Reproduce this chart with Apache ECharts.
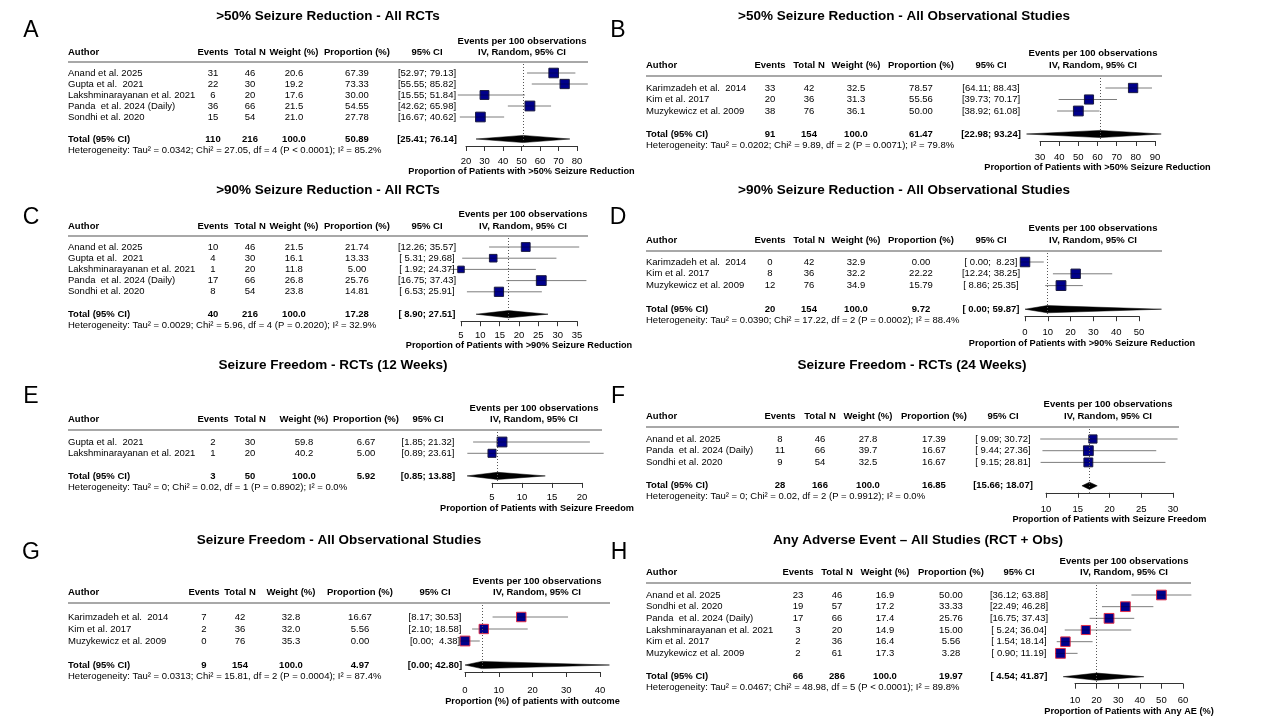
<!DOCTYPE html>
<html><head><meta charset="utf-8">
<script src="https://cdn.jsdelivr.net/npm/echarts@6/dist/echarts.min.js"></script>
<style>html,body{margin:0;padding:0;background:#fff}#main{width:1280px;height:720px}</style>
</head><body><div id="main"></div>
<script>
// ================= DATA =================
// Panel A
const A_title = '>50% Seizure Reduction - All RCTs';
const A_authors = ['Anand et al. 2025','Gupta et al.  2021','Lakshminarayanan et al. 2021','Panda  et al. 2024 (Daily)','Sondhi et al. 2020'];
const A_events = [31,22,6,36,15];
const A_totalN = [46,30,20,66,54];
const A_weight = [20.6,19.2,17.6,21.5,21.0];
const A_prop = [67.39,73.33,30.00,54.55,27.78];
const A_lo = [52.97,55.55,15.55,42.62,16.67];
const A_hi = [79.13,85.82,51.84,65.98,40.62];
const A_pooled = [110,216,50.89,25.41,76.14]; // events, N, estimate, lower, upper
const A_het = 'Heterogeneity: Tau² = 0.0342; Chi² = 27.05, df = 4 (P < 0.0001); I² = 85.2%';
const A_ticks = [20,80,10];
const A_xTitle = 'Proportion of Patients with >50% Seizure Reduction';
// Panel B
const B_title = '>50% Seizure Reduction - All Observational Studies';
const B_authors = ['Karimzadeh et al.  2014','Kim et al. 2017','Muzykewicz et al. 2009'];
const B_events = [33,20,38];
const B_totalN = [42,36,76];
const B_weight = [32.5,31.3,36.1];
const B_prop = [78.57,55.56,50.00];
const B_lo = [64.11,39.73,38.92];
const B_hi = [88.43,70.17,61.08];
const B_pooled = [91,154,61.47,22.98,93.24];
const B_het = 'Heterogeneity: Tau² = 0.0202; Chi² = 9.89, df = 2 (P = 0.0071); I² = 79.8%';
const B_ticks = [30,90,10];
const B_xTitle = 'Proportion of Patients with >50% Seizure Reduction';
// Panel C
const C_title = '>90% Seizure Reduction - All RCTs';
const C_authors = ['Anand et al. 2025','Gupta et al.  2021','Lakshminarayanan et al. 2021','Panda  et al. 2024 (Daily)','Sondhi et al. 2020'];
const C_events = [10,4,1,17,8];
const C_totalN = [46,30,20,66,54];
const C_weight = [21.5,16.1,11.8,26.8,23.8];
const C_prop = [21.74,13.33,5.00,25.76,14.81];
const C_lo = [12.26,5.31,1.92,16.75,6.53];
const C_hi = [35.57,29.68,24.37,37.43,25.91];
const C_pooled = [40,216,17.28,8.90,27.51];
const C_het = 'Heterogeneity: Tau² = 0.0029; Chi² = 5.96, df = 4 (P = 0.2020); I² = 32.9%';
const C_ticks = [5,35,5];
const C_xTitle = 'Proportion of Patients with >90% Seizure Reduction';
// Panel D
const D_title = '>90% Seizure Reduction - All Observational Studies';
const D_authors = ['Karimzadeh et al.  2014','Kim et al. 2017','Muzykewicz et al. 2009'];
const D_events = [0,8,12];
const D_totalN = [42,36,76];
const D_weight = [32.9,32.2,34.9];
const D_prop = [0.00,22.22,15.79];
const D_lo = [0.00,12.24,8.86];
const D_hi = [8.23,38.25,25.35];
const D_pooled = [20,154,9.72,0.00,59.87];
const D_het = 'Heterogeneity: Tau² = 0.0390; Chi² = 17.22, df = 2 (P = 0.0002); I² = 88.4%';
const D_ticks = [0,50,10];
const D_xTitle = 'Proportion of Patients with >90% Seizure Reduction';
// Panel E
const E_title = 'Seizure Freedom - RCTs (12 Weeks)';
const E_authors = ['Gupta et al.  2021','Lakshminarayanan et al. 2021'];
const E_events = [2,1];
const E_totalN = [30,20];
const E_weight = [59.8,40.2];
const E_prop = [6.67,5.00];
const E_lo = [1.85,0.89];
const E_hi = [21.32,23.61];
const E_pooled = [3,50,5.92,0.85,13.88];
const E_het = 'Heterogeneity: Tau² = 0; Chi² = 0.02, df = 1 (P = 0.8902); I² = 0.0%';
const E_ticks = [5,20,5];
const E_xTitle = 'Proportion of Patients with Seizure Freedom';
// Panel F
const F_title = 'Seizure Freedom - RCTs (24 Weeks)';
const F_authors = ['Anand et al. 2025','Panda  et al. 2024 (Daily)','Sondhi et al. 2020'];
const F_events = [8,11,9];
const F_totalN = [46,66,54];
const F_weight = [27.8,39.7,32.5];
const F_prop = [17.39,16.67,16.67];
const F_lo = [9.09,9.44,9.15];
const F_hi = [30.72,27.36,28.81];
const F_pooled = [28,166,16.85,15.66,18.07];
const F_het = 'Heterogeneity: Tau² = 0; Chi² = 0.02, df = 2 (P = 0.9912); I² = 0.0%';
const F_ticks = [10,30,5];
const F_xTitle = 'Proportion of Patients with Seizure Freedom';
// Panel G
const G_title = 'Seizure Freedom - All Observational Studies';
const G_authors = ['Karimzadeh et al.  2014','Kim et al. 2017','Muzykewicz et al. 2009'];
const G_events = [7,2,0];
const G_totalN = [42,36,76];
const G_weight = [32.8,32.0,35.3];
const G_prop = [16.67,5.56,0.00];
const G_lo = [8.17,2.10,0.00];
const G_hi = [30.53,18.58,4.38];
const G_pooled = [9,154,4.97,0.00,42.80];
const G_het = 'Heterogeneity: Tau² = 0.0313; Chi² = 15.81, df = 2 (P = 0.0004); I² = 87.4%';
const G_ticks = [0,40,10];
const G_xTitle = 'Proportion (%) of patients with outcome';
// Panel H
const H_title = 'Any Adverse Event \u2013 All Studies (RCT + Obs)';
const H_authors = ['Anand et al. 2025','Sondhi et al. 2020','Panda  et al. 2024 (Daily)','Lakshminarayanan et al. 2021','Kim et al. 2017','Muzykewicz et al. 2009'];
const H_events = [23,19,17,3,2,2];
const H_totalN = [46,57,66,20,36,61];
const H_weight = [16.9,17.2,17.4,14.9,16.4,17.3];
const H_prop = [50.00,33.33,25.76,15.00,5.56,3.28];
const H_lo = [36.12,22.49,16.75,5.24,1.54,0.90];
const H_hi = [63.88,46.28,37.43,36.04,18.14,11.19];
const H_pooled = [66,286,19.97,4.54,41.87];
const H_het = 'Heterogeneity: Tau² = 0.0467; Chi² = 48.98, df = 5 (P < 0.0001); I² = 89.8%';
const H_ticks = [10,60,10];
const H_xTitle = 'Proportion of Patients with Any AE (%)';

// ================= LAYOUT (positions only) =================
const colL = {author:68, events:213, total:250, weight:294, prop:357, ci:427};
const colR = {author:646, events:770, total:809, weight:856, prop:921, ci:991};
const layouts = {
  A:{letter:[31,31], title:[328,16], col:colL, ep:[522,41], headY:52, hline:[68,588,62], row1:73, sp:11, ax:[466,577], labY:161, titY:172, border:'#1a1a40'},
  B:{letter:[618,31], title:[904,16], col:colR, ep:[1093,53], headY:65, hline:[646,1162,76], row1:88, sp:11.5, ax:[1040,1155], labY:157, titY:168, border:'#1a1a40'},
  C:{letter:[31,218], title:[328,190], col:colL, ep:[523,214], headY:226, hline:[68,588,236], row1:247, sp:11.2, ax:[461,577], labY:335, titY:346, border:'#1a1a40'},
  D:{letter:[618,218], title:[904,190], col:colR, ep:[1093,228], headY:240, hline:[646,1162,251], row1:262, sp:11.8, ax:[1025,1139], labY:332, titY:344, border:'#1a1a40'},
  E:{letter:[31,397], title:[333,365], col:{author:68, events:213, total:250, weight:304, prop:366, ci:428}, ep:[534,408], headY:419, hline:[68,602,430], row1:442, sp:11.3, ax:[492,582], labY:497, titY:509, border:'#1a1a40'},
  F:{letter:[618,397], title:[912,365], col:{author:646, events:780, total:820, weight:868, prop:934, ci:1003}, ep:[1108,404], headY:416, hline:[646,1179,427], row1:439, sp:11.7, ax:[1046,1173], labY:509, titY:520, border:'#1a1a40'},
  G:{letter:[31,553], title:[339,540], col:{author:68, events:204, total:240, weight:291, prop:360, ci:435}, ep:[537,581], headY:592, hline:[68,610,603], row1:617, sp:12, ax:[465,600], labY:690, titY:702, border:'#e0304a'},
  H:{letter:[619,553], title:[918,540], col:{author:646, events:798, total:837, weight:885, prop:951, ci:1019}, ep:[1124,561], headY:572, hline:[646,1191,583], row1:595, sp:11.67, ax:[1075,1183], labY:700, titY:712, border:'#e0304a'}
};

const panels = [
  {key:'A', title:A_title, authors:A_authors, events:A_events, totalN:A_totalN, weight:A_weight, prop:A_prop, lo:A_lo, hi:A_hi, pooled:A_pooled, het:A_het, ticks:A_ticks, xTitle:A_xTitle},
  {key:'B', title:B_title, authors:B_authors, events:B_events, totalN:B_totalN, weight:B_weight, prop:B_prop, lo:B_lo, hi:B_hi, pooled:B_pooled, het:B_het, ticks:B_ticks, xTitle:B_xTitle},
  {key:'C', title:C_title, authors:C_authors, events:C_events, totalN:C_totalN, weight:C_weight, prop:C_prop, lo:C_lo, hi:C_hi, pooled:C_pooled, het:C_het, ticks:C_ticks, xTitle:C_xTitle},
  {key:'D', title:D_title, authors:D_authors, events:D_events, totalN:D_totalN, weight:D_weight, prop:D_prop, lo:D_lo, hi:D_hi, pooled:D_pooled, het:D_het, ticks:D_ticks, xTitle:D_xTitle},
  {key:'E', title:E_title, authors:E_authors, events:E_events, totalN:E_totalN, weight:E_weight, prop:E_prop, lo:E_lo, hi:E_hi, pooled:E_pooled, het:E_het, ticks:E_ticks, xTitle:E_xTitle},
  {key:'F', title:F_title, authors:F_authors, events:F_events, totalN:F_totalN, weight:F_weight, prop:F_prop, lo:F_lo, hi:F_hi, pooled:F_pooled, het:F_het, ticks:F_ticks, xTitle:F_xTitle},
  {key:'G', title:G_title, authors:G_authors, events:G_events, totalN:G_totalN, weight:G_weight, prop:G_prop, lo:G_lo, hi:G_hi, pooled:G_pooled, het:G_het, ticks:G_ticks, xTitle:G_xTitle},
  {key:'H', title:H_title, authors:H_authors, events:H_events, totalN:H_totalN, weight:H_weight, prop:H_prop, lo:H_lo, hi:H_hi, pooled:H_pooled, het:H_het, ticks:H_ticks, xTitle:H_xTitle}
];

// ================= BUILD =================
const FONT = "'Liberation Sans', Arial, Helvetica, sans-serif";
const TXT = 9.5;
const graphics = [], grids = [], xAxes = [], yAxes = [], series = [];

function txt(x, y, text, o) {
  o = o || {};
  graphics.push({type:'text', x:x, y:y, silent:true, z:10,
    style:{text:text, fill:o.color || '#000', font:(o.bold ? 'bold ' : '') + (o.size || TXT) + 'px ' + FONT,
      textAlign:o.align || 'left', textVerticalAlign:'middle'}});
}
function padW(arr) { return Math.max.apply(null, arr.map(v => v.toFixed(2).length)); }
function ci(lo, hi, wl, wh) {
  return '[' + lo.toFixed(2).padStart(wl, ' ') + '; ' + hi.toFixed(2).padStart(wh, ' ') + ']';
}

panels.forEach((p, k) => {
  const L = layouts[p.key];
  const C = L.col;
  const n = p.authors.length;
  const totalY = L.row1 + (n + 1) * L.sp;
  const axisY = totalY + 7;
  const wl = padW(p.lo.concat([p.pooled[3]]));
  const wh = padW(p.hi.concat([p.pooled[4]]));

  txt(L.letter[0], L.letter[1], p.key, {size:23, color:'#000', align:'center'});
  txt(L.title[0], L.title[1], p.title, {size:13.5, bold:true, color:'#000', align:'center'});

  txt(C.author, L.headY, 'Author', {bold:true});
  txt(C.events, L.headY, 'Events', {bold:true, align:'center'});
  txt(C.total, L.headY, 'Total N', {bold:true, align:'center'});
  txt(C.weight, L.headY, 'Weight (%)', {bold:true, align:'center'});
  txt(C.prop, L.headY, 'Proportion (%)', {bold:true, align:'center'});
  txt(C.ci, L.headY, '95% CI', {bold:true, align:'center'});
  txt(L.ep[0], L.ep[1], 'Events per 100 observations', {bold:true, align:'center'});
  txt(L.ep[0], L.headY, 'IV, Random, 95% CI', {bold:true, align:'center'});
  graphics.push({type:'line', silent:true, shape:{x1:L.hline[0], y1:L.hline[2], x2:L.hline[1], y2:L.hline[2]},
    style:{stroke:'#a8a8a8', lineWidth:2.2}});

  for (let i = 0; i < n; i++) {
    const y = L.row1 + i * L.sp;
    txt(C.author, y, p.authors[i]);
    txt(C.events, y, String(p.events[i]), {align:'center'});
    txt(C.total, y, String(p.totalN[i]), {align:'center'});
    txt(C.weight, y, p.weight[i].toFixed(1), {align:'center'});
    txt(C.prop, y, p.prop[i].toFixed(2), {align:'center'});
    txt(C.ci, y, ci(p.lo[i], p.hi[i], wl, wh), {align:'center'});
  }
  txt(C.author, totalY, 'Total (95% CI)', {bold:true});
  txt(C.events, totalY, String(p.pooled[0]), {bold:true, align:'center'});
  txt(C.total, totalY, String(p.pooled[1]), {bold:true, align:'center'});
  txt(C.weight, totalY, (100).toFixed(1), {bold:true, align:'center'});
  txt(C.prop, totalY, p.pooled[2].toFixed(2), {bold:true, align:'center'});
  txt(C.ci, totalY, ci(p.pooled[3], p.pooled[4], wl, wh), {bold:true, align:'center'});
  txt(C.author, totalY + 11, p.het);

  // forest plot grid
  const top = L.hline[2] + 2;
  grids.push({left:L.ax[0], top:top, width:L.ax[1] - L.ax[0], height:axisY - top});
  const vmin = 1 - (L.row1 - top) / L.sp;
  const vmax = 1 + (axisY - L.row1) / L.sp;
  xAxes.push({gridIndex:k, type:'value', min:p.ticks[0], max:p.ticks[1], interval:p.ticks[2], position:'bottom',
    axisLine:{show:true, onZero:false, lineStyle:{color:'#333', width:1}},
    axisTick:{show:true, length:5, lineStyle:{color:'#333', width:1}},
    axisLabel:{fontSize:TXT, color:'#000', fontFamily:FONT, margin:L.labY - axisY - 5, showMinLabel:true, showMaxLabel:true},
    splitLine:{show:false},
    name:p.xTitle, nameLocation:'middle', nameGap:L.titY - axisY - 5,
    nameTextStyle:{fontWeight:'bold', fontSize:9.2, color:'#000', fontFamily:FONT}});
  yAxes.push({gridIndex:k, type:'value', inverse:true, min:vmin, max:vmax, show:false});

  const wmax = Math.max.apply(null, p.weight);
  // confidence interval lines + pooled dotted reference line
  series.push({type:'custom', coordinateSystem:'cartesian2d', xAxisIndex:k, yAxisIndex:k, clip:false, silent:true, z:2,
    data:p.lo.map((lo, i) => [lo, i + 1, p.hi[i]]),
    encode:{x:[0, 2], y:1},
    renderItem:(params, api) => {
      const a = api.coord([api.value(0), api.value(1)]);
      const b = api.coord([api.value(2), api.value(1)]);
      return {type:'line', shape:{x1:a[0], y1:a[1], x2:b[0], y2:b[1]}, style:{stroke:'#7d7d7d', lineWidth:1}};
    },
    markLine:{silent:true, symbol:['none','none'], label:{show:false}, animation:false,
      lineStyle:{color:'#555', type:[1, 2], width:1}, data:[{xAxis:p.pooled[2]}]}
  });
  // study squares (area proportional to weight)
  series.push({type:'custom', coordinateSystem:'cartesian2d', xAxisIndex:k, yAxisIndex:k, clip:false, silent:true, z:3,
    data:p.prop.map((v, i) => [v, i + 1, p.weight[i]]),
    encode:{x:0, y:1},
    renderItem:(params, api) => {
      const c = api.coord([api.value(0), api.value(1)]);
      const s = 9.8 * Math.sqrt(api.value(2) / wmax);
      return {type:'group', children:[
        {type:'rect', shape:{x:c[0] - s / 2, y:c[1] - s / 2, width:s, height:s},
          style:{fill:'#00008b', stroke:L.border, lineWidth:1}},
        {type:'line', shape:{x1:c[0] - s / 2, y1:c[1], x2:c[0] + s / 2, y2:c[1]}, style:{stroke:'#000', lineWidth:0.6, opacity:0.5}}
      ]};
    }
  });
  // pooled diamond
  series.push({type:'custom', coordinateSystem:'cartesian2d', xAxisIndex:k, yAxisIndex:k, clip:false, silent:true, z:3,
    data:[[p.pooled[3], p.pooled[2], p.pooled[4], n + 2]],
    encode:{x:[0, 1, 2], y:3},
    renderItem:(params, api) => {
      const l = api.coord([api.value(0), api.value(3)]);
      const m = api.coord([api.value(1), api.value(3)]);
      const r = api.coord([api.value(2), api.value(3)]);
      const h = 3.6;
      return {type:'polygon', shape:{points:[[l[0], l[1]], [m[0], m[1] - h], [r[0], r[1]], [m[0], m[1] + h]]},
        style:{fill:'#000', stroke:'#000', lineWidth:0.5}};
    }
  });
});

const chart = echarts.init(document.getElementById('main'), null, {renderer:'canvas'});
chart.setOption({
  animation:false,
  backgroundColor:'#fff',
  textStyle:{fontFamily:FONT},
  grid:grids, xAxis:xAxes, yAxis:yAxes, series:series, graphic:graphics
});
</script>
</body></html>
